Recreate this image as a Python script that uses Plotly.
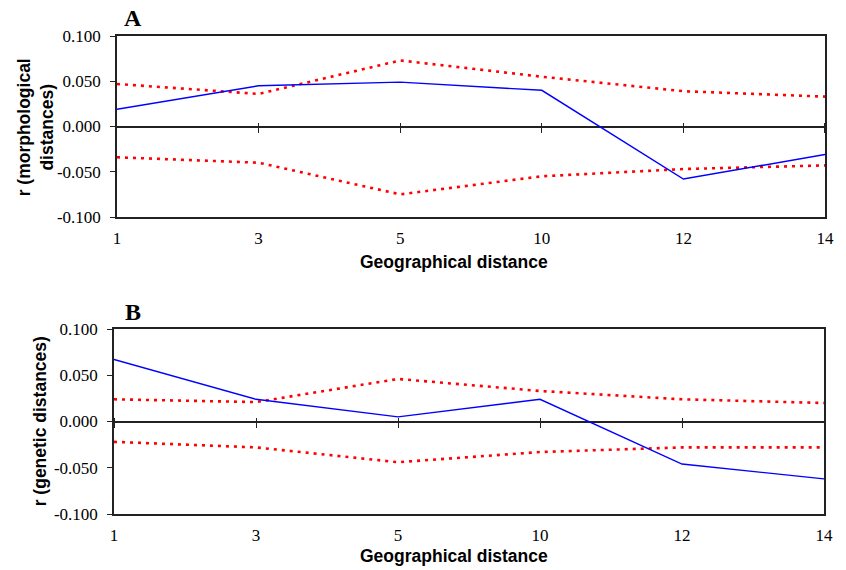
import plotly.graph_objects as go

# ---- data ----
categories = ["1", "3", "5", "10", "12", "14"]

a_r = [0.019, 0.045, 0.049, 0.040, -0.058, -0.031]
a_upper = [0.047, 0.036, 0.073, 0.055, 0.039, 0.033]
a_lower = [-0.034, -0.040, -0.075, -0.055, -0.047, -0.043]

b_r = [0.067, 0.024, 0.005, 0.024, -0.046, -0.062]
b_upper = [0.024, 0.021, 0.046, 0.033, 0.024, 0.020]
b_lower = [-0.022, -0.028, -0.044, -0.033, -0.028, -0.028]

y_tickvals = [-0.1, -0.05, 0.0, 0.05, 0.1]
y_ticktext = ["-0.100", "-0.050", "0.000", "0.050", "0.100"]
panel_labels = ["A", "B"]
y_titles = ["r (morphological<br>distances)", "r (genetic distances)"]
x_title = "Geographical distance"

# ---- layout geometry (screen pixels; body margin removed) ----
W, H = 846, 570
L_SCR, R_SCR = 114, 828
ml = L_SCR
mr = W - R_SCR
mt = 36
mb = H - 514
ph = H - mt - mb
pw = W - ml - mr

def py(pix):
    return 1 - (pix - mt) / ph

def px_x(pix):
    return (pix - ml) / pw

domA = [py(217), 1.0]
domB = [0.0, py(329)]
xdomA = [px_x(117), 1.0]
xdomB = [0.0, px_x(827)]

serif = "Liberation Serif"
sans = "Liberation Sans"

fig = go.Figure()

red_line = dict(color="#ff0000", width=2.6, dash="3px,5px")
blue_line = dict(color="#0000ff", width=1.4)

xidx = list(range(len(categories)))

for ax, (r, up, lo) in zip(["", "2"], [(a_r, a_upper, a_lower), (b_r, b_upper, b_lower)]):
    xa = "x" + ax
    ya = "y" + ax
    fig.add_trace(go.Scatter(x=xidx, y=up, mode="lines", line=red_line, xaxis=xa, yaxis=ya, showlegend=False))
    fig.add_trace(go.Scatter(x=xidx, y=lo, mode="lines", line=red_line, xaxis=xa, yaxis=ya, showlegend=False))
    fig.add_trace(go.Scatter(x=xidx, y=r, mode="lines", line=blue_line, xaxis=xa, yaxis=ya, showlegend=False))

# invisible traces hosting the tick-only axes that cross the zero line
fig.add_trace(go.Scatter(x=xidx, y=a_r, mode="lines", line=dict(width=0), opacity=0,
                         xaxis="x3", yaxis="y", showlegend=False, hoverinfo="skip"))
fig.add_trace(go.Scatter(x=xidx, y=b_r, mode="lines", line=dict(width=0), opacity=0,
                         xaxis="x4", yaxis="y2", showlegend=False, hoverinfo="skip"))

common_x = dict(
    range=[0, len(categories) - 1],
    tickmode="array",
    tickvals=xidx,
    ticktext=categories,
    showline=True,
    linecolor="#222222",
    linewidth=1.5,
    mirror=True,
    ticks="",
    showgrid=False,
    zeroline=False,
    tickfont=dict(family=serif, size=17, color="black"),
    ticklabelstandoff=5,
)
common_y = dict(
    range=[-0.1, 0.1],
    tickmode="array",
    tickvals=y_tickvals,
    ticktext=y_ticktext,
    showline=True,
    linecolor="#222222",
    linewidth=1.5,
    mirror=True,
    ticks="outside",
    ticklen=5,
    tickwidth=1.3,
    tickcolor="#222222",
    showgrid=False,
    zeroline=True,
    zerolinecolor="#222222",
    zerolinewidth=1.5,
    tickfont=dict(family=serif, size=17, color="black"),
    ticklabelstandoff=6,
)

def midpos(dom):
    return (dom[0] + dom[1]) / 2

tick_axis = dict(
    range=[0, len(categories) - 1],
    tickmode="array",
    tickvals=xidx,
    showticklabels=False,
    showline=False,
    showgrid=False,
    zeroline=False,
    ticks="outside",
    ticklen=10,
    tickwidth=1.3,
    tickcolor="#222222",
    anchor="free",
)

fig.update_layout(
    width=W,
    height=H,
    margin=dict(l=ml, r=mr, t=mt, b=mb),
    paper_bgcolor="white",
    plot_bgcolor="white",
    showlegend=False,
    xaxis=dict(common_x, anchor="y", domain=xdomA),
    yaxis=dict(common_y, anchor="x", domain=domA),
    xaxis2=dict(common_x, anchor="y2", domain=xdomB),
    yaxis2=dict(common_y, anchor="x2", domain=domB),
    xaxis3=dict(tick_axis, overlaying="x", domain=xdomA, position=midpos(domA) + 5 / ph),
    xaxis4=dict(tick_axis, overlaying="x2", domain=xdomB, position=midpos(domB) + 5 / ph),
)

annotations = []
for lab, ypix in zip(panel_labels, [18, 312]):
    annotations.append(dict(text="<b>%s</b>" % lab, xref="paper", yref="paper", x=px_x(133), y=py(ypix),
                            xanchor="center", yanchor="middle", showarrow=False,
                            font=dict(family=serif, size=24, color="black")))
for ypix in [262, 556]:
    annotations.append(dict(text="<b>%s</b>" % x_title, xref="paper", yref="paper", x=px_x(455), y=py(ypix),
                            xanchor="center", yanchor="middle", showarrow=False,
                            font=dict(family=sans, size=17.5, color="black")))
for t, xpix, ypix in zip(y_titles, [36, 40], [127, 421]):
    annotations.append(dict(text="<b>%s</b>" % t, xref="paper", yref="paper", x=px_x(xpix), y=py(ypix),
                            xanchor="center", yanchor="middle", showarrow=False, textangle=-90,
                            font=dict(family=sans, size=17.5, color="black")))
fig.update_layout(annotations=annotations)

fig.write_html(
    "out.html",
    config={"displayModeBar": False},
    post_script="document.body.style.margin='0';document.body.style.padding='0';"
                "document.body.style.overflow='hidden';",
)
